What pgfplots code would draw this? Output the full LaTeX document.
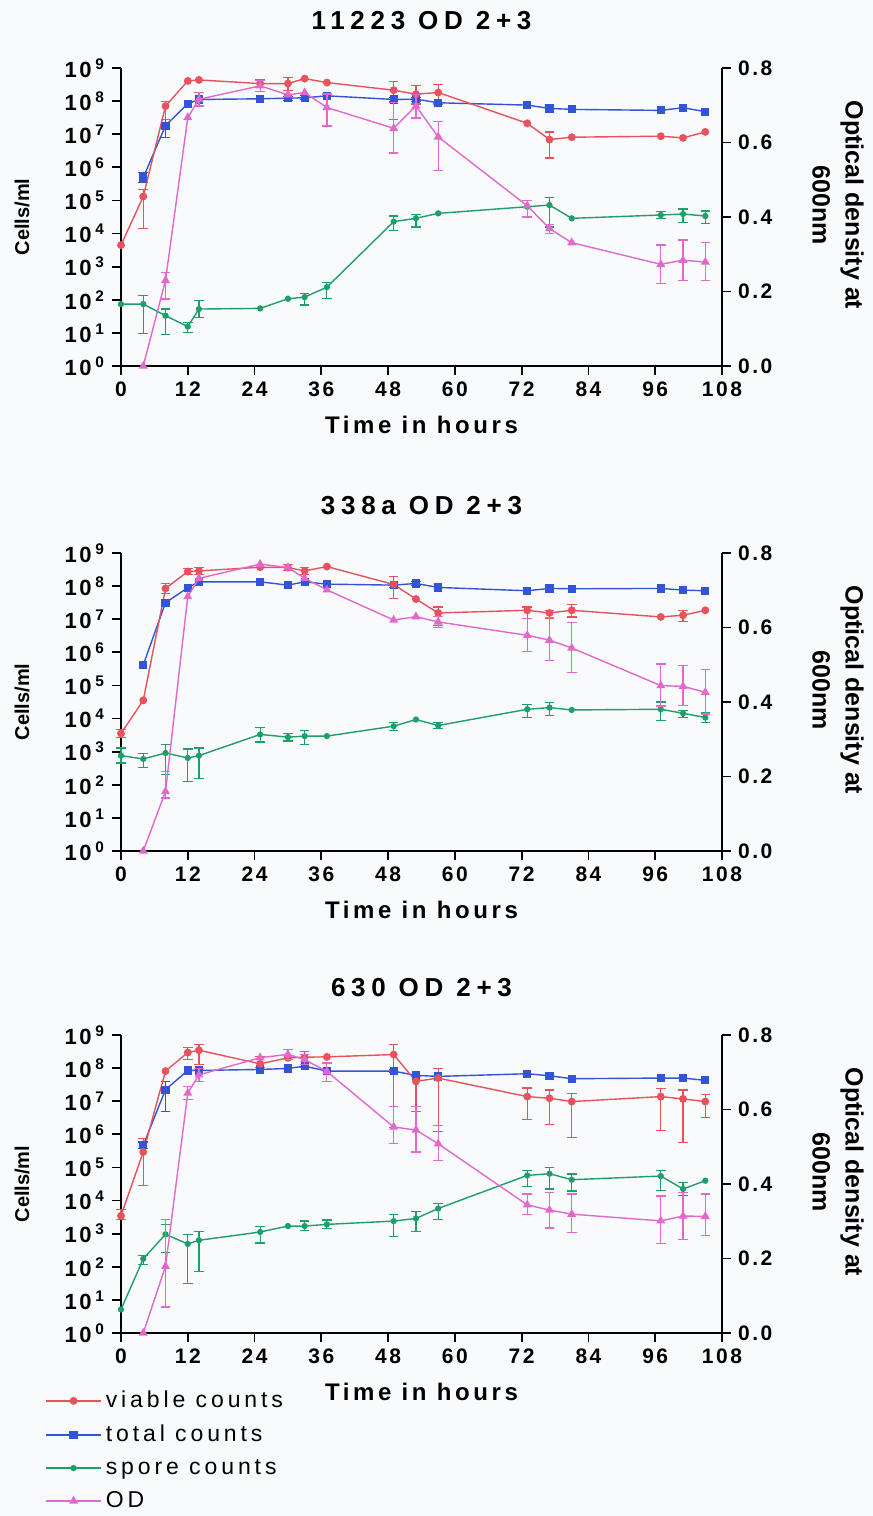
\documentclass[border=0pt]{standalone}
\usepackage{fontspec}
\setmainfont{Liberation Sans}
\newfontfamily\titlefam[LetterSpace=22]{Liberation Sans}
\newfontfamily\labfam[LetterSpace=15]{Liberation Sans}
\newfontfamily\tickfam[LetterSpace=12]{Liberation Sans}
\newfontfamily\legfam[LetterSpace=17]{Liberation Sans}
\usepackage{pgfplots}
\pgfplotsset{compat=1.18}
\usepackage{pgfplotstable}

\definecolor{cred}{RGB}{232,82,92}
\definecolor{cblue}{RGB}{52,84,214}
\definecolor{cgreen}{RGB}{28,160,104}
\definecolor{cpink}{RGB}{226,104,204}
\definecolor{bg}{RGB}{248,250,252}

% y of count tables = log10(cells/ml)
% ---------- panel A: 11223 ----------
\pgfplotstableread{
t y
0 3.65
4 5.12
8 7.85
12 8.61
14 8.64
25 8.53
30 8.53
33 8.68
37 8.56
49 8.33
53 8.21
57 8.26
73 7.33
77 6.84
81 6.91
97 6.94
101 6.89
105 7.07
}\vA
\pgfplotstableread{
t y ep em
4 5.12 0.20 0.97
8 7.85 0.15 0.40
25 8.53 0.13 0.13
30 8.53 0.18 0.22
49 8.33 0.26 0.88
53 8.21 0.25 0.30
57 8.26 0.25 0.35
77 6.84 0.23 0.56
}\evA
\pgfplotstableread{
t y
4 5.69
8 7.26
12 7.92
14 8.05
25 8.07
30 8.09
33 8.10
37 8.16
49 8.05
53 8.06
57 7.95
73 7.88
77 7.78
81 7.75
97 7.72
101 7.80
105 7.68
}\tA
\pgfplotstableread{
t y ep em
4 5.69 0.15 0.15
8 7.26 0.19 0.37
30 8.09 0.06 0.06
33 8.10 0.06 0.06
49 8.05 0.06 0.06
53 8.06 0.06 0.06
}\etA
\pgfplotstableread{
t y
0 1.87
4 1.87
8 1.52
12 1.19
14 1.72
25 1.74
30 2.03
33 2.08
37 2.38
49 4.36
53 4.46
57 4.61
73 4.81
77 4.86
81 4.46
97 4.56
101 4.59
105 4.53
}\sA
\pgfplotstableread{
t y ep em
4 1.87 0.26 0.89
8 1.52 0.20 0.56
12 1.19 0.13 0.18
14 1.72 0.26 0.25
33 2.08 0.12 0.24
37 2.38 0.15 0.35
49 4.36 0.17 0.26
53 4.46 0.12 0.26
73 4.81 0.18 0.32
77 4.86 0.23 0.66
97 4.56 0.10 0.10
101 4.59 0.15 0.26
105 4.53 0.15 0.22
}\esA
\pgfplotstableread{
t y
4 0.0
8 0.23
12 0.667
14 0.716
25 0.752
30 0.728
33 0.734
37 0.694
49 0.638
53 0.698
57 0.615
73 0.43
77 0.369
81 0.331
97 0.273
101 0.284
105 0.279
}\oA
\pgfplotstableread{
t y ep em
8 0.23 0.02 0.05
14 0.716 0.018 0.018
25 0.752 0.015 0.015
37 0.694 0.036 0.05
49 0.638 0.07 0.066
53 0.698 0.03 0.032
57 0.615 0.042 0.09
73 0.43 0.015 0.03
77 0.369 0.01 0.014
97 0.273 0.052 0.052
101 0.284 0.054 0.054
105 0.279 0.052 0.05
}\eoA
% ---------- panel B: 338a ----------
\pgfplotstableread{
t y
0 3.55
4 4.55
8 7.93
12 8.44
14 8.46
25 8.57
30 8.56
33 8.46
37 8.59
49 8.05
53 7.61
57 7.19
73 7.27
77 7.19
81 7.27
97 7.07
101 7.12
105 7.27
}\vB
\pgfplotstableread{
t y ep em
0 3.55 0.12 0.13
8 7.93 0.15 0.15
12 8.44 0.10 0.10
14 8.46 0.10 0.12
30 8.56 0.10 0.10
33 8.46 0.10 0.12
49 8.05 0.23 0.43
57 7.19 0.18 0.38
73 7.27 0.10 0.25
77 7.19 0.08 0.15
81 7.27 0.17 0.20
101 7.12 0.15 0.18
}\evB
\pgfplotstableread{
t y
4 5.62
8 7.50
12 7.95
14 8.13
25 8.13
30 8.03
33 8.13
37 8.06
49 8.03
53 8.08
57 7.96
73 7.86
77 7.93
81 7.92
97 7.93
101 7.88
105 7.86
}\tB
\pgfplotstableread{
t y ep em
49 8.03 0.06 0.06
53 8.08 0.05 0.05
}\etB
\pgfplotstableread{
t y
0 2.88
4 2.78
8 2.96
12 2.81
14 2.88
25 3.52
30 3.44
33 3.47
37 3.47
49 3.77
53 3.97
57 3.79
73 4.28
77 4.33
81 4.26
97 4.28
101 4.16
105 4.03
}\sB
\pgfplotstableread{
t y ep em
0 2.88 0.23 0.22
4 2.78 0.16 0.25
8 2.96 0.25 0.66
12 2.81 0.27 0.71
14 2.88 0.23 0.68
25 3.52 0.20 0.23
30 3.44 0.11 0.12
33 3.47 0.18 0.25
49 3.77 0.12 0.12
57 3.79 0.10 0.10
73 4.28 0.15 0.25
77 4.33 0.15 0.23
97 4.28 0.22 0.35
101 4.16 0.09 0.13
105 4.03 0.15 0.15
}\esB
\pgfplotstableread{
t y
4 0.0
8 0.16
12 0.683
14 0.732
25 0.770
30 0.761
33 0.732
37 0.701
49 0.620
53 0.629
57 0.615
73 0.579
77 0.566
81 0.545
97 0.444
101 0.442
105 0.426
}\oB
\pgfplotstableread{
t y ep em
8 0.16 0.054 0.018
57 0.615 0.015 0.015
73 0.579 0.045 0.043
77 0.566 0.06 0.054
81 0.545 0.068 0.065
97 0.444 0.058 0.055
101 0.442 0.056 0.052
105 0.426 0.061 0.058
}\eoB
% ---------- panel C: 630 ----------
\pgfplotstableread{
t y
0 3.54
4 5.47
8 7.91
12 8.47
14 8.54
25 8.13
30 8.31
33 8.33
37 8.34
49 8.41
53 7.60
57 7.70
73 7.14
77 7.09
81 6.99
97 7.14
101 7.07
105 6.99
}\vC
\pgfplotstableread{
t y ep em
0 3.54 0.20 0.10
4 5.47 0.40 1.02
12 8.47 0.15 0.20
14 8.54 0.18 0.43
25 8.13 0.23 0.12
33 8.33 0.18 0.22
49 8.41 0.30 2.20
53 7.60 0.15 0.90
57 7.70 0.29 1.62
73 7.14 0.26 0.68
77 7.09 0.25 0.80
81 6.99 0.25 1.09
97 7.14 0.25 1.02
101 7.07 0.27 1.31
105 6.99 0.22 0.48
}\evC
\pgfplotstableread{
t y
4 5.67
8 7.35
12 7.93
14 7.93
25 7.96
30 7.99
33 8.06
37 7.91
49 7.91
53 7.78
57 7.75
73 7.83
77 7.77
81 7.68
97 7.70
101 7.70
105 7.63
}\tC
\pgfplotstableread{
t y ep em
4 5.67 0.10 0.10
8 7.35 0.25 0.66
33 8.06 0.05 0.05
49 7.91 0.05 0.05
77 7.77 0.05 0.05
}\etC
\pgfplotstableread{
t y
0 0.71
4 2.24
8 2.98
12 2.69
14 2.80
25 3.05
30 3.23
33 3.23
37 3.28
49 3.38
53 3.46
57 3.76
73 4.76
77 4.81
81 4.63
97 4.74
101 4.35
105 4.60
}\sC
\pgfplotstableread{
t y ep em
4 2.24 0.10 0.17
8 2.98 0.30 0.56
12 2.69 0.28 1.19
14 2.80 0.27 0.94
25 3.05 0.16 0.33
33 3.23 0.15 0.13
37 3.28 0.13 0.13
49 3.38 0.20 0.46
53 3.46 0.20 0.40
57 3.76 0.15 0.33
73 4.76 0.15 0.34
77 4.81 0.20 0.46
81 4.63 0.17 0.34
97 4.74 0.17 0.44
101 4.35 0.20 0.20
}\esC
\pgfplotstableread{
t y
4 0.0
8 0.179
12 0.644
14 0.693
25 0.739
30 0.748
33 0.734
37 0.702
49 0.553
53 0.545
57 0.508
73 0.344
77 0.330
81 0.319
97 0.301
101 0.314
105 0.313
}\oC
\pgfplotstableread{
t y ep em
8 0.179 0.126 0.109
12 0.644 0.018 0.018
14 0.693 0.018 0.018
30 0.748 0.014 0.014
33 0.734 0.014 0.014
37 0.702 0.023 0.027
49 0.553 0.054 0.045
53 0.545 0.063 0.059
57 0.508 0.05 0.045
73 0.344 0.029 0.025
77 0.330 0.047 0.048
81 0.319 0.054 0.05
97 0.301 0.067 0.06
101 0.314 0.063 0.063
105 0.313 0.06 0.052
}\eoC

\pgfplotsset{
  base/.style={scale only axis, width=300.5pt, height=149pt, xmin=0, xmax=108,
    clip=false, anchor=south west, tick align=outside, major tick length=4.5pt,
    every tick/.append style={black, line width=0.9pt},
    axis line style={-, line width=1pt, black},
    /pgf/number format/assume math mode=true,
    tick label style={font=\tickfam\bfseries\fontsize{10.5}{12}\selectfont}},
  laxis/.style={base, axis x line*=bottom, axis y line*=left,
    ymin=0, ymax=9, ytick={0,1,...,9},
    yticklabels={10\,\textsuperscript{0},10\,\textsuperscript{1},10\,\textsuperscript{2},10\,\textsuperscript{3},10\,\textsuperscript{4},10\,\textsuperscript{5},10\,\textsuperscript{6},10\,\textsuperscript{7},10\,\textsuperscript{8},10\,\textsuperscript{9}},
    yticklabel style={font=\tickfam\bfseries\fontsize{11}{13}\selectfont},
    xtick={0,12,...,108},
    title style={at={(axis description cs:0.5,1)}, anchor=center, yshift=17.5pt, font=\titlefam\bfseries\fontsize{13}{15}\selectfont},
    xlabel={Time in hours},
    xlabel style={at={(axis description cs:0.5,0)}, anchor=center, yshift=-29.5pt, font=\labfam\bfseries\fontsize{12}{14}\selectfont},
    ylabel={Cells/ml},
    ylabel style={at={(axis description cs:-0.1647,0.5)}, anchor=center, font=\bfseries\fontsize{10}{12}\selectfont}},
  raxis/.style={base, axis x line=none, axis y line*=right,
    ymin=0, ymax=0.8, ytick={0,0.2,0.4,0.6,0.8}, yticklabels={0.0,0.2,0.4,0.6,0.8},
    ylabel={Optical density at\\600nm},
    ylabel style={align=center, rotate=180, at={(axis description cs:1.193,0.54)}, anchor=center, font=\bfseries\fontsize{12.5}{16.5}\selectfont}},
  vline/.style={cred, mark=*, mark size=1.6pt, line width=0.7pt},
  tline/.style={cblue, mark=square*, mark size=1.7pt, line width=0.7pt},
  sline/.style={cgreen, mark=*, mark size=1.2pt, line width=0.7pt},
  oline/.style={cpink, mark=triangle*, mark size=1.9pt, line width=0.7pt},
  ebar/.style={draw=none, mark=none, forget plot, error bars/.cd, y dir=both, y explicit,
    error mark=-,
    error bar style={draw=#1, line width=0.6pt},
    error mark options={draw=#1, rotate=90, line width=0.6pt, mark size=2.4pt}},
}

\begin{document}
\begin{tikzpicture}
\path[use as bounding box, fill=bg] (0,0) rectangle (436.5pt,758pt);
% ---------------- panel 1 ----------------
\begin{axis}[laxis, at={(60.5pt,575pt)}, title={11223 OD 2+3}]
\addplot[ebar=cgreen] table[x=t,y=y,y error plus=ep,y error minus=em]{\esA};
\addplot[sline] table[x=t,y=y]{\sA};
\addplot[ebar=cblue] table[x=t,y=y,y error plus=ep,y error minus=em]{\etA};
\addplot[tline] table[x=t,y=y]{\tA};
\addplot[ebar=cred] table[x=t,y=y,y error plus=ep,y error minus=em]{\evA};
\addplot[vline] table[x=t,y=y]{\vA};
\end{axis}
\begin{axis}[raxis, at={(60.5pt,575pt)}]
\addplot[ebar=cpink] table[x=t,y=y,y error plus=ep,y error minus=em]{\eoA};
\addplot[oline] table[x=t,y=y]{\oA};
\end{axis}
% ---------------- panel 2 ----------------
\begin{axis}[laxis, at={(60.5pt,332.5pt)}, title={338a OD 2+3}]
\addplot[ebar=cgreen] table[x=t,y=y,y error plus=ep,y error minus=em]{\esB};
\addplot[sline] table[x=t,y=y]{\sB};
\addplot[ebar=cblue] table[x=t,y=y,y error plus=ep,y error minus=em]{\etB};
\addplot[tline] table[x=t,y=y]{\tB};
\addplot[ebar=cred] table[x=t,y=y,y error plus=ep,y error minus=em]{\evB};
\addplot[vline] table[x=t,y=y]{\vB};
\end{axis}
\begin{axis}[raxis, at={(60.5pt,332.5pt)}]
\addplot[ebar=cpink] table[x=t,y=y,y error plus=ep,y error minus=em]{\eoB};
\addplot[oline] table[x=t,y=y]{\oB};
\end{axis}
% ---------------- panel 3 ----------------
\begin{axis}[laxis, at={(60.5pt,91.5pt)}, title={630 OD 2+3}]
\addplot[ebar=cgreen] table[x=t,y=y,y error plus=ep,y error minus=em]{\esC};
\addplot[sline] table[x=t,y=y]{\sC};
\addplot[ebar=cblue] table[x=t,y=y,y error plus=ep,y error minus=em]{\etC};
\addplot[tline] table[x=t,y=y]{\tC};
\addplot[ebar=cred] table[x=t,y=y,y error plus=ep,y error minus=em]{\evC};
\addplot[vline] table[x=t,y=y]{\vC};
\end{axis}
\begin{axis}[raxis, at={(60.5pt,91.5pt)},
  legend style={at={(axis description cs:-0.1265,-0.18)}, anchor=north west,
    draw=none, fill=none, inner sep=0pt, row sep=3.2pt,
    font=\legfam\fontsize{11.5}{13}\selectfont},
  legend cell align=left,
  legend image code/.code={\draw[mark repeat=2,mark phase=2,#1] plot coordinates {(0pt,0pt) (13.75pt,0pt) (27.5pt,0pt)};}]
\addlegendimage{vline}
\addlegendentry{viable counts}
\addlegendimage{tline}
\addlegendentry{total counts}
\addlegendimage{sline}
\addlegendentry{spore counts}
\addplot[ebar=cpink] table[x=t,y=y,y error plus=ep,y error minus=em]{\eoC};
\addplot[oline] table[x=t,y=y]{\oC};
\addlegendentry{OD}
\end{axis}
\end{tikzpicture}
\end{document}
